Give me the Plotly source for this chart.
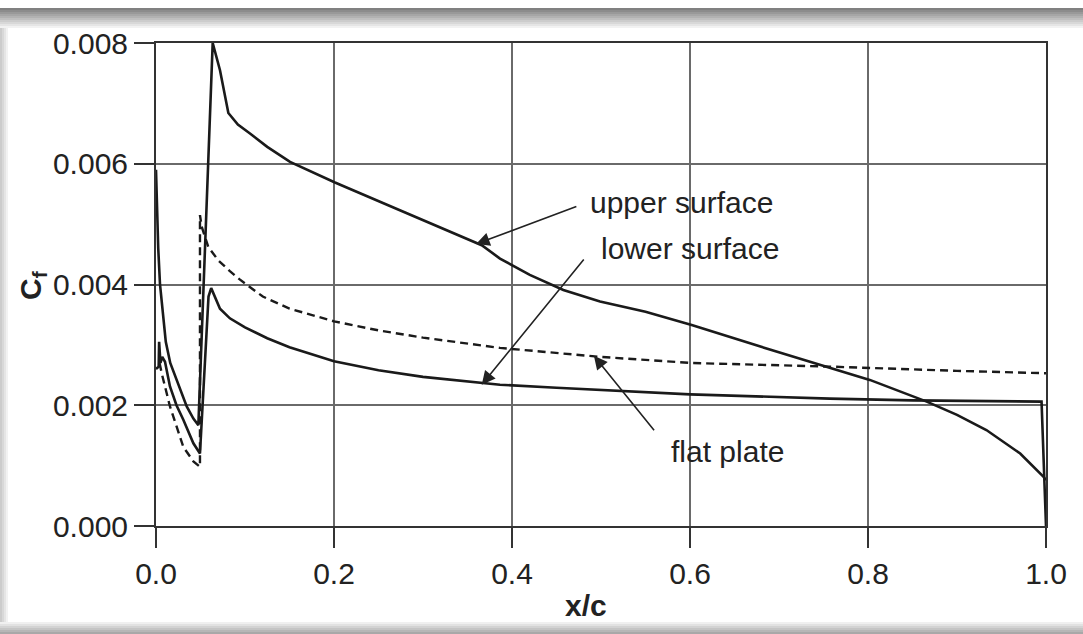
import plotly.graph_objects as go

# ---- data ----
upper_x = [0.0, 0.001, 0.0025, 0.0045, 0.0075, 0.011, 0.016, 0.023, 0.0345, 0.042, 0.0476,
           0.0637, 0.0719, 0.0813, 0.092, 0.1056, 0.125, 0.1506, 0.2011, 0.274, 0.366, 0.3865,
           0.42, 0.4577, 0.4989, 0.55, 0.6019, 0.686, 0.757, 0.802, 0.866, 0.90, 0.933,
           0.971, 0.997, 1.0]
upper_cf = [0.0059, 0.0052, 0.0046, 0.0040, 0.0035, 0.00305, 0.0027, 0.00242, 0.00198, 0.00178, 0.00167,
            0.0080, 0.00755, 0.00684, 0.00665, 0.0065, 0.00628, 0.00603, 0.00569, 0.00523, 0.00465, 0.00443,
            0.00416, 0.00391, 0.00372, 0.00355, 0.00333, 0.00294, 0.00262, 0.00242, 0.00206, 0.00184, 0.00159,
            0.0012, 0.00082, 0.00076]

lower_x = [0.0, 0.003, 0.0035, 0.005, 0.007, 0.0101, 0.0157, 0.023, 0.0307, 0.042, 0.0494,
           0.059, 0.062, 0.0719, 0.083, 0.1, 0.125, 0.15, 0.2, 0.25, 0.3, 0.3865, 0.45, 0.536,
           0.6, 0.757, 0.85, 0.995, 1.0]
lower_cf = [0.0026, 0.00264, 0.00305, 0.0027, 0.0028, 0.00272, 0.00231, 0.00200, 0.00176, 0.00137, 0.0012,
            0.0038, 0.00394, 0.0036, 0.00344, 0.00329, 0.00311, 0.00296, 0.00273, 0.00258, 0.00247, 0.00234,
            0.00229, 0.00222, 0.00218, 0.00211, 0.00208, 0.00206, 0.0]

flat_x = [0.004, 0.0064, 0.0157, 0.0307, 0.042, 0.0494, 0.0494, 0.0513, 0.057, 0.0588,
          0.07, 0.083, 0.0944, 0.12, 0.15, 0.2, 0.25, 0.3, 0.3865, 0.5, 0.602, 0.757, 0.9, 1.0]
flat_cf = [0.0027, 0.00253, 0.00198, 0.00131, 0.00107, 0.00098, 0.00515, 0.00496, 0.00470, 0.00462,
           0.00440, 0.00422, 0.00408, 0.00380, 0.00360, 0.00339, 0.00324, 0.00312, 0.00295, 0.0028,
           0.0027, 0.00264, 0.00257, 0.00253]

x_ticks = [0.0, 0.2, 0.4, 0.6, 0.8, 1.0]
x_tick_labels = ["0.0", "0.2", "0.4", "0.6", "0.8", "1.0"]
y_ticks = [0.0, 0.002, 0.004, 0.006, 0.008]
y_tick_labels = ["0.000", "0.002", "0.004", "0.006", "0.008"]

labels = ["upper surface", "lower surface", "flat plate"]
label_pos = [(0.591, 0.00535), (0.600, 0.00460), (0.6416, 0.00123)]
arrow_head = [(0.3596, 0.00467), (0.366, 0.00234), (0.492, 0.00282)]
arrow_tail = [(0.474, 0.00530), (0.482, 0.00444), (0.561, 0.00156)]

FONT = "Liberation Sans, Arial, sans-serif"
INK = "#1a1a1a"
FS = 30

fig = go.Figure()
fig.add_trace(go.Scatter(x=upper_x, y=upper_cf, mode="lines",
                         line=dict(color=INK, width=2.6), hoverinfo="skip"))
fig.add_trace(go.Scatter(x=lower_x, y=lower_cf, mode="lines",
                         line=dict(color=INK, width=2.6), hoverinfo="skip"))
fig.add_trace(go.Scatter(x=flat_x, y=flat_cf, mode="lines",
                         line=dict(color=INK, width=2.4, dash="8px,5px"), hoverinfo="skip"))

W, H = 1083, 634
L, R, T, B = 156, 1046, 43, 526
def px2paper(px, py):
    return (px - L) / (R - L), (B - py) / (B - T)

annotations = []
for txt, (tx, ty) in zip(labels, label_pos):
    annotations.append(dict(x=tx, y=ty, xref="x", yref="y", text=txt, showarrow=False,
                            font=dict(family=FONT, size=FS, color="#222"),
                            xanchor="center", yanchor="middle"))
for (hx, hy), (tx, ty) in zip(arrow_head, arrow_tail):
    annotations.append(dict(x=hx, y=hy, xref="x", yref="y", ax=tx, ay=ty,
                            axref="x", ayref="y", text="", showarrow=True,
                            arrowhead=2, arrowsize=1.7, arrowwidth=1.6, arrowcolor="#222"))
# x-axis title (placed slightly left of centre, as in the reference)
tx_, ty_ = px2paper(586, 605)
annotations.append(dict(x=tx_, y=ty_, xref="paper", yref="paper", text="<b>x/c</b>",
                        showarrow=False, font=dict(family=FONT, size=FS, color="#222"),
                        xanchor="center", yanchor="middle"))
# y-axis title
tx_, ty_ = px2paper(32, 285)
annotations.append(dict(x=tx_, y=ty_, xref="paper", yref="paper", text="<b>C<sub>f</sub></b>",
                        showarrow=False, textangle=-90, font=dict(family=FONT, size=FS, color="#222"),
                        xanchor="center", yanchor="middle"))

# card-like shadow edges
shapes = []
n = 10
for i in range(n):
    g = int(0x80 + (0xff - 0x80) * i / n)
    col = f"rgb({g},{g},{g})"
    x0, y0 = px2paper(0, 8 + 2 * i)
    x1, y1 = px2paper(W, 10 + 2 * i)
    shapes.append(dict(type="rect", xref="paper", yref="paper", x0=x0, x1=x1, y0=y0, y1=y1,
                       fillcolor=col, line=dict(width=0), layer="below"))
for i in range(4):
    g = int(0xcc + (0xff - 0xcc) * i / 4)
    col = f"rgb({g},{g},{g})"
    x0, y0 = px2paper(2 * i, 28)
    x1, y1 = px2paper(2 * i + 2, H - 12)
    shapes.append(dict(type="rect", xref="paper", yref="paper", x0=x0, x1=x1, y0=y0, y1=y1,
                       fillcolor=col, line=dict(width=0), layer="below"))
for i in range(6):
    g = int(0xa8 + (0xff - 0xa8) * i / 6)
    col = f"rgb({g},{g},{g})"
    x0, y0 = px2paper(0, H - 2 * i)
    x1, y1 = px2paper(W, H - 2 * i - 2)
    shapes.append(dict(type="rect", xref="paper", yref="paper", x0=x0, x1=x1, y0=y0, y1=y1,
                       fillcolor=col, line=dict(width=0), layer="below"))

fig.update_layout(
    width=W, height=H,
    margin=dict(l=L, r=W - R, t=T, b=H - B),
    paper_bgcolor="white", plot_bgcolor="white",
    showlegend=False,
    annotations=annotations,
    shapes=shapes,
    font=dict(family=FONT, color="#222"),
)
fig.update_xaxes(range=[0, 1.0], tickvals=x_ticks, ticktext=x_tick_labels,
                 showgrid=True, gridcolor="#6a6a6a", gridwidth=1.5,
                 showline=True, linecolor="#333", linewidth=2, mirror=True,
                 ticks="outside", ticklen=20, tickwidth=1.5, tickcolor="#333",
                 tickfont=dict(family=FONT, size=FS, color="#222"),
                 zeroline=False)
fig.update_yaxes(range=[0, 0.008], tickvals=y_ticks, ticktext=y_tick_labels,
                 showgrid=True, gridcolor="#6a6a6a", gridwidth=1.5,
                 showline=True, linecolor="#333", linewidth=2, mirror=True,
                 ticks="outside", ticklen=20, tickwidth=1.5, tickcolor="#333",
                 tickfont=dict(family=FONT, size=FS, color="#222"),
                 zeroline=False)

fig.write_html("out.html")
